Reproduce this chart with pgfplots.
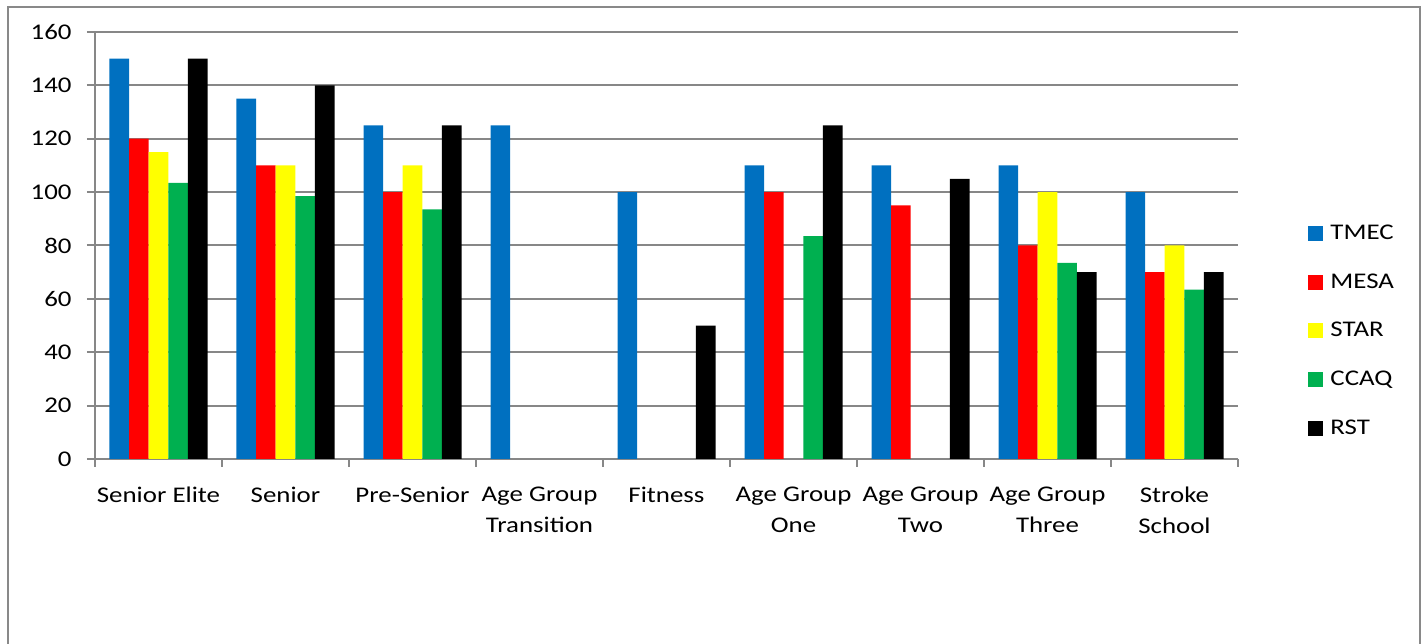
\documentclass[border=0pt]{standalone}
\usepackage{pgfplots}
\pgfplotsset{compat=1.18}
\usepackage{fontspec}
\setmainfont{Carlito}[FakeStretch=1.2]
\definecolor{tmec}{HTML}{0070C0}
\definecolor{mesa}{HTML}{FF0000}
\definecolor{star}{HTML}{FFFF00}
\definecolor{ccaq}{HTML}{00B050}
\definecolor{rst}{HTML}{000000}
\definecolor{axgray}{HTML}{878787}
\definecolor{framegray}{HTML}{898989}
\pgfplotsset{sq/.style={legend image code/.code={\fill[##1] (0bp,-3.75bp) rectangle (7.5bp,3.75bp);}}}
\newcommand{\lblfont}{\fontsize{11.2bp}{15.4bp}\selectfont}
\begin{document}
\begin{tikzpicture}
\useasboundingbox (0,0) rectangle (714bp,322bp);
\draw[framegray, line width=1bp] (3.75bp,-5bp) -- (3.75bp,318.25bp) -- (710bp,318.25bp) -- (710bp,-5bp);
\begin{axis}[
  at={(47.5bp,92.5bp)}, anchor=south west,
  scale only axis, width=571.5bp, height=213.5bp,
  xmin=-0.5, xmax=8.5, ymin=0, ymax=160,
  ybar=0pt, bar width=9.8bp,
  axis x line*=bottom, axis y line*=left,
  axis line style={axgray, line width=1bp, -},
  ytick={0,20,...,160}, ymajorgrids,
  grid style={axgray, line width=1bp},
  xtick={0,...,8},
  xticklabels={Senior Elite, Senior, Pre-Senior, {Age Group\\Transition}, Fitness, {Age Group\\One}, {Age Group\\Two}, {Age Group\\Three}, {Stroke\\School}},
  minor xtick={-0.5,0.5,...,8.5},
  tick align=outside, major tick length=4bp, minor tick length=4bp,
  tick style={axgray, line width=1bp},
  major x tick style={draw=none},
  /pgf/number format/assume math mode=true,
  xticklabel style={font=\lblfont, align=center, anchor=north, inner sep=0pt, yshift=-10bp},
  yticklabel style={font=\lblfont, anchor=east, inner sep=0pt, xshift=-7.5bp},
  legend style={draw=none, fill=none, at={(1.0613,0.300)}, anchor=west, inner sep=0pt,
    row sep=14.4bp, font=\lblfont,
    nodes={inner xsep=3.5bp, inner ysep=0pt, text height=8bp, text depth=2bp}},
  legend cell align=left,
]
\addplot[fill=tmec, draw=none, sq] coordinates {(0,150)(1,135)(2,125)(3,125)(4,100)(5,110)(6,110)(7,110)(8,100)};
\addplot[fill=mesa, draw=none, sq] coordinates {(0,120)(1,110)(2,100)(5,100)(6,95)(7,80)(8,70)};
\addplot[fill=star, draw=none, sq] coordinates {(0,115)(1,110)(2,110)(7,100)(8,80)};
\addplot[fill=ccaq, draw=none, sq] coordinates {(0,103.5)(1,98.5)(2,93.5)(5,83.5)(7,73.5)(8,63.5)};
\addplot[fill=rst, draw=none, sq] coordinates {(0,150)(1,140)(2,125)(4,50)(5,125)(6,105)(7,70)(8,70)};
\legend{TMEC, MESA, STAR, CCAQ, RST}
\end{axis}
\end{tikzpicture}
\end{document}
